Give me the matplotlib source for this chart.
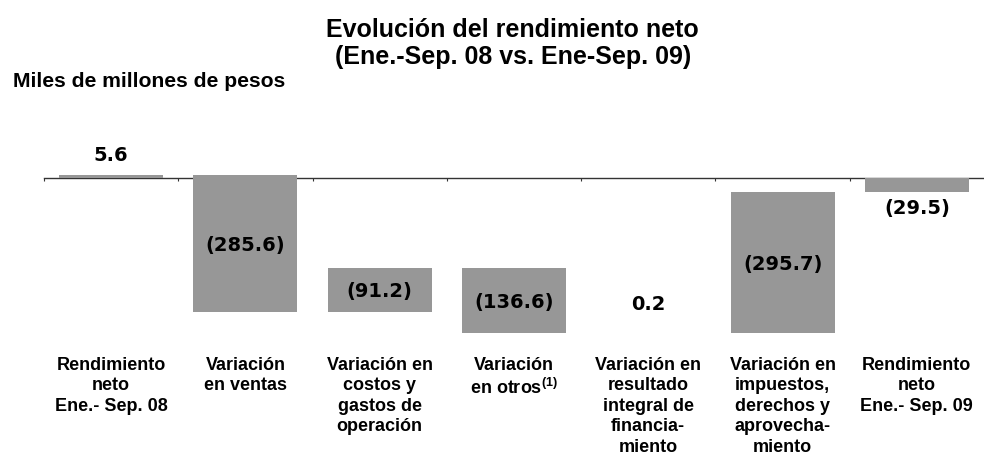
import matplotlib.pyplot as plt

plt.rcParams["font.family"] = ["Liberation Sans", "DejaVu Sans"]
plt.rcParams["font.weight"] = "bold"
plt.rcParams["mathtext.fontset"] = "custom"
plt.rcParams["mathtext.rm"] = "Liberation Sans:bold"
plt.rcParams["mathtext.bf"] = "Liberation Sans:bold"

# --- Data ---
categories = [
    "Rendimiento\nneto\nEne.- Sep. 08",
    "Variación\nen ventas",
    "Variación en\ncostos y\ngastos de\noperación",
    "Variación\nen otros$^{(1)}$",
    "Variación en\nresultado\nintegral de\nfinancia-\nmiento",
    "Variación en\nimpuestos,\nderechos y\naprovecha-\nmiento",
    "Rendimiento\nneto\nEne.- Sep. 09",
]
start_value = 5.6
# signed movement of each intermediate bar
steps = [-285.6, 91.2, -136.6, 0.2, 295.7]
end_value = -29.5
value_labels = ["5.6", "(285.6)", "(91.2)", "(136.6)", "0.2", "(295.7)", "(29.5)"]

# --- Bar spans ---
bottoms = [0.0]
heights = [start_value]
level = start_value
for s in steps:
    bottoms.append(level)
    heights.append(s)
    level += s
bottoms.append(0.0)
heights.append(end_value)

fig = plt.figure(figsize=(9.84, 4.55), dpi=100)
ax = fig.add_axes([0.0447, 0.2466, 0.9553, 0.4422])

x = list(range(len(categories)))
ax.bar(x, heights, bottom=bottoms, width=0.775, color="#979797", edgecolor="none", zorder=2)

ax.set_xlim(-0.5, 6.5)
ax.set_ylim(-345, 75)

for side in ["top", "right", "left"]:
    ax.spines[side].set_visible(False)
ax.spines["bottom"].set_position(("data", 0))
ax.spines["bottom"].set_color("#333333")
ax.spines["bottom"].set_linewidth(1.0)
ax.spines["bottom"].set_zorder(1)
ax.set_yticks([])
ax.set_xticks([i - 0.5 for i in range(len(categories))])
ax.set_xticklabels([])
ax.tick_params(axis="x", direction="out", length=2, width=0.8, color="#333333")

# --- Value labels ---
val_font = dict(fontsize=14, fontweight="bold", family="DejaVu Sans")
for i, (b, h, lab) in enumerate(zip(bottoms, heights, value_labels)):
    top = b + h
    if i == 0:
        ax.annotate(lab, (i, top), xytext=(0, 7), textcoords="offset points",
                    ha="center", va="bottom", **val_font)
    elif i == len(value_labels) - 1:
        ax.annotate(lab, (i, top), xytext=(0, -5), textcoords="offset points",
                    ha="center", va="top", **val_font)
    elif abs(h) < 5:
        ax.annotate(lab, (i, top), xytext=(0, 21), textcoords="offset points",
                    ha="center", va="center", **val_font)
    else:
        ax.text(i, b + h / 2 - 4, lab, ha="center", va="center", **val_font)

# --- Category labels ---
for i, cat in enumerate(categories):
    ax.text(i, -0.069, cat, transform=ax.get_xaxis_transform(), ha="center", va="top",
            fontsize=13, fontweight="bold", linespacing=1.27)

fig.text(0.521, 0.9044, "Evolución del rendimiento neto\n(Ene.-Sep. 08 vs. Ene-Sep. 09)",
         ha="center", va="center", fontsize=18, fontweight="bold", linespacing=1.2)
fig.text(0.013, 0.8095, "Miles de millones de pesos", ha="left", va="baseline",
         fontsize=15.2, fontweight="bold")

fig.savefig("out.png", dpi=100)
